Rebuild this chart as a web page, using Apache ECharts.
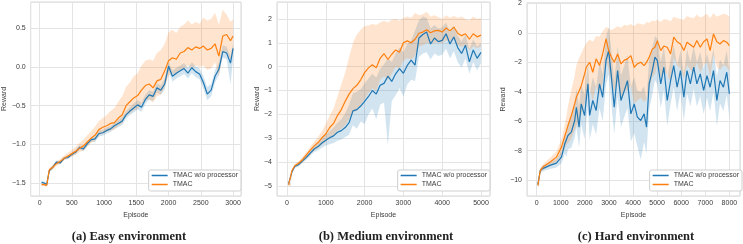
<!DOCTYPE html>
<html>
<head>
<meta charset="utf-8">
<script src="https://cdn.jsdelivr.net/npm/echarts@6/dist/echarts.min.js"></script>
<style>
  html, body { margin: 0; padding: 0; background: #fff; }
  #chart { width: 743px; height: 244px; }
</style>
</head>
<body>
<div id="chart"></div>
<script>
// series names
var NAME_BASE = 'TMAC w/o processor';
var NAME_TMAC = 'TMAC';

// (a) easy environment
var easyEp = [30,70,110,150,200,260,320,380,440,500, 560,620,680,740,800,860,920,980,1040,1100,
  1160,1220,1280,1340,1400,1460,1520,1580,1640,1700, 1760,1820,1880,1940,2000,2060,2120,2180,2240,2300,
  2360,2420,2480,2540,2600,2660,2720,2780,2840,2900, 2960,3000];
var easyTmac = [-1.52,-1.52,-1.53,-1.33,-1.30,-1.25,-1.22,-1.18,-1.15,-1.12, -1.09,-1.05,-1.02,-0.97,-0.92,-0.88,-0.81,-0.78,-0.76,-0.73,
  -0.72,-0.66,-0.62,-0.50,-0.45,-0.40,-0.37,-0.30,-0.24,-0.22, -0.27,-0.18,-0.16,-0.05,0.08,0.12,0.10,0.18,0.20,0.25,
  0.22,0.26,0.24,0.27,0.22,0.24,0.30,0.14,0.40,0.42, 0.34,0.40];
var easyTmacHi = [-1.50,-1.50,-1.51,-1.30,-1.27,-1.22,-1.19,-1.14,-1.11,-1.07, -1.03,-0.98,-0.94,-0.88,-0.83,-0.77,-0.70,-0.66,-0.62,-0.57,
  -0.53,-0.45,-0.38,-0.26,-0.20,-0.12,-0.08,0.02,0.08,0.10, 0.08,0.18,0.22,0.30,0.45,0.48,0.44,0.52,0.55,0.60,
  0.55,0.58,0.56,0.64,0.60,0.62,0.70,0.55,0.74,0.68, 0.58,0.62];
var easyTmacLo = [-1.54,-1.54,-1.55,-1.36,-1.33,-1.28,-1.25,-1.21,-1.18,-1.16, -1.13,-1.10,-1.08,-1.03,-0.98,-0.95,-0.89,-0.86,-0.84,-0.82,
  -0.81,-0.76,-0.73,-0.63,-0.60,-0.56,-0.54,-0.48,-0.43,-0.42, -0.46,-0.38,-0.36,-0.26,-0.12,-0.08,-0.10,-0.04,-0.02,0.02,
  -0.02,0.02,0.00,0.02,-0.04,-0.02,0.06,-0.12,0.18,0.20, 0.10,0.18];
var easyBase = [-1.49,-1.50,-1.52,-1.34,-1.30,-1.23,-1.24,-1.18,-1.17,-1.13, -1.10,-1.04,-1.06,-0.99,-0.94,-0.93,-0.86,-0.85,-0.82,-0.80,
  -0.76,-0.73,-0.70,-0.62,-0.57,-0.53,-0.49,-0.52,-0.42,-0.36, -0.38,-0.27,-0.30,-0.22,0.01,-0.12,-0.08,-0.05,-0.02,-0.08,
  -0.01,-0.06,-0.09,-0.20,-0.35,-0.30,-0.12,-0.03,0.20,0.18, 0.05,0.24];
var easyBaseHi = [-1.47,-1.48,-1.50,-1.32,-1.28,-1.21,-1.22,-1.16,-1.15,-1.11, -1.07,-1.01,-1.03,-0.96,-0.91,-0.89,-0.82,-0.81,-0.78,-0.76,
  -0.72,-0.68,-0.65,-0.57,-0.52,-0.47,-0.43,-0.46,-0.36,-0.30, -0.32,-0.21,-0.24,-0.15,0.07,-0.05,-0.01,0.02,0.05,-0.01,
  0.06,0.01,-0.02,-0.12,-0.26,-0.22,-0.04,0.05,0.28,0.26, 0.14,0.30];
var easyBaseLo = [-1.51,-1.52,-1.54,-1.36,-1.32,-1.25,-1.26,-1.20,-1.19,-1.15, -1.13,-1.07,-1.09,-1.02,-0.97,-0.97,-0.90,-0.89,-0.86,-0.84,
  -0.80,-0.78,-0.75,-0.67,-0.62,-0.59,-0.55,-0.58,-0.48,-0.42, -0.44,-0.33,-0.36,-0.29,-0.05,-0.19,-0.15,-0.12,-0.09,-0.15,
  -0.08,-0.13,-0.16,-0.28,-0.43,-0.38,-0.20,-0.11,0.12,0.10, -0.22,0.10];

// (b) medium environment
var medEp = [40,90,130,200,300,400,500,600,700,800, 900,1000,1100,1200,1300,1400,1500,1600,1700,1800,
  1900,2000,2100,2200,2300,2400,2500,2600,2700,2800, 2900,3000,3100,3200,3300,3400,3500,3600,3700,3800,
  3900,4000,4100,4200,4300,4400,4500,4600,4700,4800, 4900,5000];
var medTmac = [-4.95,-4.97,-4.35,-4.15,-4.05,-3.90,-3.70,-3.50,-3.32,-3.18, -2.98,-2.82,-2.55,-2.38,-2.05,-1.80,-1.45,-1.15,-0.92,-0.78,
  -0.55,-0.25,-0.05,0.08,-0.05,0.35,0.55,0.30,0.52,0.70, 0.60,1.00,1.08,1.00,1.15,1.40,1.45,1.55,1.42,1.50,
  1.52,1.45,1.62,1.50,1.66,1.40,1.30,1.38,1.15,1.38, 1.25,1.32];
var medTmacHi = [-4.90,-4.92,-4.28,-4.08,-3.95,-3.78,-3.58,-3.36,-3.15,-2.95, -2.70,-2.40,-2.05,-1.75,-1.25,-0.75,-0.25,0.40,1.00,1.35,
  1.55,1.70,1.72,1.80,1.75,1.85,1.92,1.85,1.98,2.00, 1.92,2.05,2.10,2.05,2.25,2.15,2.20,2.30,2.10,2.15,
  2.08,2.00,2.15,2.05,2.12,2.05,2.10,2.00,1.95,2.10, 2.00,2.05];
var medTmacLo = [-5.00,-5.02,-4.42,-4.22,-4.15,-4.02,-3.85,-3.68,-3.52,-3.42, -3.28,-3.15,-3.00,-2.90,-2.70,-2.60,-2.45,-2.20,-1.90,-1.85,
  -1.60,-1.35,-1.10,-0.90,-1.00,-0.55,-0.40,-0.55,-0.30,0.00, -0.10,0.25,0.35,0.30,0.45,0.85,0.90,1.00,0.95,1.00,
  1.02,0.98,1.12,1.00,1.15,0.90,0.82,0.90,0.70,0.85, 0.78,0.85];
var medBase = [-4.90,-4.92,-4.40,-4.18,-4.10,-3.95,-3.80,-3.62,-3.45,-3.35, -3.20,-3.08,-2.98,-2.90,-2.75,-2.68,-2.55,-2.35,-1.85,-1.80,
  -1.65,-1.45,-1.25,-1.00,-1.15,-0.78,-0.70,-0.40,-0.62,-0.30, -0.08,-0.28,0.05,0.27,0.06,1.20,1.35,1.45,0.95,1.20,
  1.05,1.10,1.38,0.95,1.24,0.80,0.55,0.90,0.20,0.70, 0.35,0.60];
var medBaseHi = [-4.86,-4.88,-4.33,-4.12,-4.03,-3.88,-3.72,-3.52,-3.33,-3.20, -3.00,-2.85,-2.70,-2.55,-2.35,-2.20,-1.95,-1.60,-1.10,-1.05,
  -0.95,-0.70,-0.50,-0.30,-0.45,-0.10,0.10,0.35,0.20,0.55, 0.80,0.60,0.95,1.10,1.50,1.95,2.10,2.05,1.60,1.75,
  1.60,1.65,1.85,1.45,1.70,1.30,1.05,1.35,0.75,1.15, 0.85,1.00];
var medBaseLo = [-4.95,-4.97,-4.47,-4.25,-4.18,-4.03,-3.90,-3.73,-3.58,-3.50, -3.40,-3.30,-3.25,-3.20,-3.10,-3.05,-2.95,-2.85,-2.45,-2.60,
  -2.30,-2.40,-2.00,-1.75,-2.20,-1.60,-1.50,-3.30,-1.45,-1.20, -0.90,-1.25,-0.75,-0.55,-0.60,0.40,0.55,0.60,0.30,0.55,
  0.45,0.50,0.75,0.35,0.65,0.20,-0.05,0.35,-0.30,0.20, -0.15,0.15];

// (c) hard environment
var hardEp = [50,100,150,270,550,820,1030,1170,1240,1300, 1440,1580,1650,1760,1850,1990,2060,2130,2200,2330,
  2470,2610,2740,2880,2990,3090,3220,3360,3500,3640, 3770,3910,4050,4180,4320,4460,4560,4670,4800,4910,
  5010,5150,5280,5420,5560,5690,5830,5970,6110,6240, 6380,6520,6650,6790,6930,7070,7200,7340,7480,7610,
  7750,7890,8000];
var hardTmac = [-10.36,-10.35,-9.35,-9.10,-8.78,-8.44,-7.76,-7.00,-6.63,-6.30, -5.61,-4.80,-4.37,-3.95,-3.60,-2.80,-2.33,-2.20,-1.99,-2.67,
  -1.76,-2.22,-1.43,-0.41,-1.20,-1.60,-1.99,-1.43,-2.10,-1.85, -1.76,-1.54,-2.33,-2.10,-1.99,-2.22,-2.00,-1.65,-1.10,-0.97,
  -0.52,-1.20,-0.90,-0.97,-1.43,-0.29,-0.60,-0.75,-1.20,-0.63, -0.80,-0.97,-0.52,-0.97,-0.60,-0.41,-1.20,-0.07,-0.60,-0.75,
  -0.52,-0.63,-0.86];
var hardTmacHi = [-10.25,-10.25,-9.20,-8.90,-8.50,-8.05,-7.20,-6.20,-5.60,-5.00, -3.90,-2.90,-2.20,-1.70,-1.40,-0.90,-0.70,-0.55,-0.45,-0.60,
  -0.20,-0.25,0.10,0.40,0.30,0.20,0.30,0.45,0.35,0.55, 0.50,0.60,0.45,0.65,0.60,0.55,0.75,0.70,0.85,0.80,
  0.90,0.75,0.95,0.90,0.80,1.10,1.00,0.95,0.90,1.15, 1.05,1.00,1.25,1.05,1.15,1.30,1.00,1.35,1.10,1.20,
  1.30,1.25,1.10];
var hardTmacLo = [-10.45,-10.45,-9.50,-9.30,-9.05,-8.80,-8.30,-7.80,-7.60,-7.50, -7.20,-6.60,-6.30,-6.00,-5.60,-4.80,-4.20,-4.00,-3.80,-4.60,
  -3.60,-4.20,-3.40,-1.80,-2.50,-3.20,-4.00,-3.30,-4.40,-4.00, -3.90,-3.60,-4.80,-4.60,-4.40,-4.70,-4.50,-3.80,-3.00,-2.80,
  -2.10,-3.00,-2.60,-2.80,-3.40,-1.70,-2.20,-2.40,-3.10,-2.20, -2.50,-2.70,-2.00,-2.70,-2.20,-2.00,-3.00,-1.50,-2.30,-2.50,
  -2.20,-2.30,-2.60];
var hardBase = [-10.30,-10.32,-9.35,-9.20,-9.00,-8.85,-8.44,-7.53,-7.65,-6.97, -6.74,-5.95,-5.05,-6.40,-4.82,-5.61,-4.50,-3.46,-5.61,-4.59,
  -5.27,-3.46,-4.37,-1.88,-1.20,-2.78,-5.05,-2.56,-4.59,-3.91, -3.24,-5.50,-4.82,-5.72,-5.95,-5.50,-6.40,-3.46,-2.56,-1.65,
  -1.88,-3.46,-2.33,-4.59,-3.24,-2.22,-3.69,-2.56,-4.37,-2.56, -3.46,-2.33,-3.46,-2.78,-3.91,-2.90,-3.69,-2.56,-4.59,-3.24,
  -3.69,-2.67,-4.14];
var hardBaseHi = [-10.20,-10.22,-9.20,-9.00,-8.75,-8.55,-8.05,-6.90,-6.90,-6.10, -5.70,-4.80,-3.80,-5.00,-3.50,-4.20,-3.10,-2.00,-4.10,-3.00,
  -3.70,-1.90,-2.80,-0.30,0.40,-1.00,-3.30,-0.90,-2.90,-2.20, -1.50,-3.70,-3.00,-3.90,-4.00,-3.60,-4.50,-1.80,-1.00,-0.20,
  -0.40,-2.00,-0.90,-3.00,-1.80,-0.80,-2.20,-1.20,-2.80,-1.10, -2.00,-0.90,-2.00,-1.30,-2.40,-1.40,-2.20,-1.10,-3.00,-1.80,
  -2.20,-1.20,-2.60];
var hardBaseLo = [-10.40,-10.42,-9.50,-9.40,-9.25,-9.15,-8.85,-8.20,-8.40,-7.90, -7.80,-7.10,-6.40,-7.80,-6.20,-7.20,-6.00,-5.00,-7.30,-6.20,
  -6.90,-5.10,-6.00,-3.50,-2.80,-4.60,-6.90,-4.30,-6.40,-5.70, -5.10,-7.40,-6.80,-7.70,-8.60,-7.40,-8.20,-5.20,-4.20,-3.20,
  -3.50,-5.10,-3.90,-6.30,-4.80,-3.70,-5.30,-4.00,-6.00,-4.10, -5.00,-3.80,-5.00,-4.30,-5.50,-4.40,-5.30,-4.00,-6.30,-4.80,
  -5.30,-4.20,-5.80];

var captions = ['(a) Easy environment', '(b) Medium environment', '(c) Hard environment'];

var BLUE = '#1f77b4';
var ORANGE = '#ff7f0e';
var FONT = '"Liberation Sans", Arial, sans-serif';
var LABEL_COLOR = '#3a3a3a';

var panels = [
  { ep: easyEp, tmac: easyTmac, tmacLo: easyTmacLo, tmacHi: easyTmacHi, base: easyBase, baseLo: easyBaseLo, baseHi: easyBaseHi,
    grid: { left: 28, top: 2, width: 213, height: 194 },
    x: { min: -138, max: 3123, split: 6, step: 500 },
    y: { min: -1.668, max: 0.84, split: 5, step: 0.5, digits: 1 },
    nameGap: 21, legendRight: 502, capX: 129 },
  { ep: medEp, tmac: medTmac, tmacLo: medTmacLo, tmacHi: medTmacHi, base: medBase, baseLo: medBaseLo, baseHi: medBaseHi,
    grid: { left: 277, top: 2, width: 213, height: 194 },
    x: { min: -258, max: 5232, split: 5, step: 1000 },
    y: { min: -5.42, max: 2.71, split: 8, step: 1, digits: 0 },
    nameGap: 15, legendRight: 253, capX: 386 },
  { ep: hardEp, tmac: hardTmac, tmacLo: hardTmacLo, tmacHi: hardTmacHi, base: hardBase, baseLo: hardBaseLo, baseHi: hardBaseHi,
    grid: { left: 527, top: 2, width: 215, height: 194 },
    x: { min: -400, max: 8440, split: 8, step: 1000 },
    y: { min: -11.08, max: 2.04, split: 6, step: 2, digits: 0 },
    nameGap: 20, legendRight: 1, capX: 636 }
];

function tickFmt(step, digits) {
  return function (v) {
    var k = v / step;
    if (Math.abs(k - Math.round(k)) > 1e-6) return '';
    var s = Math.abs(v).toFixed(digits);
    return v < -1e-9 ? '\u2212' + s : s;
  };
}

function pairs(xs, ys) {
  return xs.map(function (x, i) { return [x, ys[i]]; });
}

// shaded band drawn as one polygon through the axis scales
function bandSeries(gi, xs, lo, hi, color) {
  return {
    type: 'custom',
    xAxisIndex: gi,
    yAxisIndex: gi,
    silent: true,
    data: xs.map(function (x, i) { return [x, lo[i], hi[i]]; }),
    encode: { x: 0, y: [1, 2] },
    renderItem: function (params, api) {
      if (params.dataIndex !== 0) return null;
      var pts = [];
      for (var i = 0; i < xs.length; ++i) pts.push(api.coord([xs[i], hi[i]]));
      for (var j = xs.length - 1; j >= 0; --j) pts.push(api.coord([xs[j], lo[j]]));
      return { type: 'polygon', shape: { points: pts }, style: { fill: color } };
    },
    z: 1
  };
}

function lineSeries(gi, name, xs, ys, color) {
  return {
    type: 'line',
    name: name,
    xAxisIndex: gi,
    yAxisIndex: gi,
    data: pairs(xs, ys),
    symbol: 'none',
    showSymbol: false,
    silent: true,
    lineStyle: { width: 1.2, color: color },
    itemStyle: { color: color },
    z: 3
  };
}

var labelStyle = { fontSize: 7, color: LABEL_COLOR, fontFamily: FONT };

var grids = [], xAxes = [], yAxes = [], series = [], legends = [], graphics = [];

panels.forEach(function (p, i) {
  grids.push({
    left: p.grid.left, top: p.grid.top, width: p.grid.width, height: p.grid.height,
    show: true, borderColor: '#d6d6d6', borderWidth: 1, backgroundColor: 'transparent'
  });
  xAxes.push({
    type: 'value', gridIndex: i, min: p.x.min, max: p.x.max, splitNumber: p.x.split,
    axisLine: { show: false }, axisTick: { show: false },
    splitLine: { lineStyle: { color: '#e4e4e4', width: 1 } },
    axisLabel: Object.assign({ margin: 4, formatter: tickFmt(p.x.step, 0) }, labelStyle),
    name: 'Episode', nameLocation: 'middle', nameGap: 12,
    nameTextStyle: labelStyle
  });
  yAxes.push({
    type: 'value', gridIndex: i, min: p.y.min, max: p.y.max, splitNumber: p.y.split,
    axisLine: { show: false }, axisTick: { show: false },
    splitLine: { lineStyle: { color: '#e4e4e4', width: 1 } },
    axisLabel: Object.assign({ margin: 5, formatter: tickFmt(p.y.step, p.y.digits) }, labelStyle),
    name: 'Reward', nameLocation: 'middle', nameGap: p.nameGap,
    nameTextStyle: labelStyle
  });
  series.push(bandSeries(i, p.ep, p.baseLo, p.baseHi, 'rgba(31,119,180,0.2)'));
  series.push(bandSeries(i, p.ep, p.tmacLo, p.tmacHi, 'rgba(255,127,14,0.2)'));
  series.push(lineSeries(i, NAME_BASE, p.ep, p.base, BLUE));
  series.push(lineSeries(i, NAME_TMAC, p.ep, p.tmac, ORANGE));
  legends.push({
    data: [NAME_BASE, NAME_TMAC],
    orient: 'vertical', right: p.legendRight, top: 170,
    icon: 'rect', itemWidth: 16, itemHeight: 1.5, itemGap: 2,
    padding: [2, 3, 3, 3],
    backgroundColor: '#fff', borderColor: '#cfcfcf', borderWidth: 1, borderRadius: 2,
    textStyle: labelStyle, selectedMode: false
  });
  graphics.push({
    type: 'text', x: p.capX, y: 237,
    style: {
      text: captions[i], fill: '#222',
      font: 'bold 12.5px "Liberation Serif", "Times New Roman", serif',
      align: 'center', verticalAlign: 'middle'
    }
  });
});

var chart = echarts.init(document.getElementById('chart'), null, { renderer: 'canvas' });
chart.setOption({
  animation: false,
  backgroundColor: '#fff',
  grid: grids,
  xAxis: xAxes,
  yAxis: yAxes,
  legend: legends,
  series: series,
  graphic: graphics
});
</script>
</body>
</html>
